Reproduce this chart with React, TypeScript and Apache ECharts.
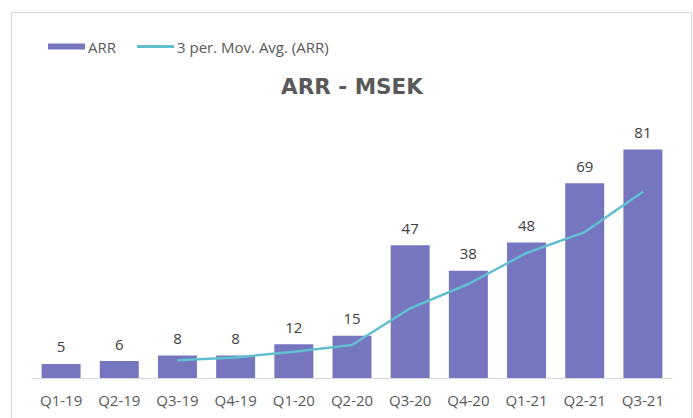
import React, { useEffect, useRef } from "react";
import * as echarts from "echarts";

const categories = ["Q1-19", "Q2-19", "Q3-19", "Q4-19", "Q1-20", "Q2-20", "Q3-20", "Q4-20", "Q1-21", "Q2-21", "Q3-21"];
const arrValues = [5, 6, 8, 8, 12, 15, 47, 38, 48, 69, 81];
const movAvgValues: (number | null)[] = [null, null, 6.3, 7.3, 9.3, 11.7, 24.7, 33.3, 44.3, 51.7, 66];

export default function App() {
  const ref = useRef<HTMLDivElement>(null);
  useEffect(() => {
    document.body.style.margin = "0";
    const chart = echarts.init(ref.current!, undefined, { renderer: "svg" });
    const font = "Open Sans";
    chart.setOption({
      animation: false,
      backgroundColor: "#ffffff",
      title: {
        text: "ARR - MSEK",
        left: 347,
        textAlign: "center",
        top: 70,
        textStyle: { fontFamily: "DejaVu Sans", fontWeight: "bold", fontSize: 21.5, color: "#595959" },
      },
      legend: {
        left: 43,
        top: 34,
        itemWidth: 37,
        itemHeight: 6,
        itemGap: 21,
        textStyle: { fontFamily: font, fontSize: 15, color: "#595959", padding: [0, 0, 0, -2] },
        data: [
          { name: "ARR", icon: "rect" },
          { name: "3 per. Mov. Avg. (ARR)", icon: "path://M0,0 L37,0 L37,3 L0,3 Z" },
        ],
      },
      graphic: [
        {
          type: "rect",
          shape: { x: 11.5, y: 12.5, width: 680, height: 440 },
          style: { fill: "none", stroke: "#d9d9d9", lineWidth: 1 },
          silent: true,
        },
      ],
      grid: { left: 32, right: 21, top: 124, bottom: 40 },
      xAxis: {
        type: "category",
        data: categories,
        axisLine: { lineStyle: { color: "#d9d9d9", width: 1 } },
        axisTick: { show: false },
        axisLabel: { fontFamily: font, fontSize: 15, color: "#595959", margin: 14 },
      },
      yAxis: {
        type: "value",
        min: 0,
        max: 90,
        show: false,
        splitLine: { show: false },
      },
      series: [
        {
          name: "ARR",
          type: "bar",
          data: arrValues,
          barCategoryGap: "33%",
          itemStyle: { color: "#7676c0" },
          label: {
            show: true,
            position: "top",
            distance: 10,
            fontFamily: font,
            fontSize: 15,
            color: "#404040",
          },
        },
        {
          name: "3 per. Mov. Avg. (ARR)",
          type: "line",
          data: movAvgValues,
          symbol: "none",
          lineStyle: { color: "#62bfd0", width: 2.5 },
          itemStyle: { color: "#62bfd0" },
        },
      ],
    });
    return () => chart.dispose();
  }, []);
  return <div ref={ref} style={{ position: "absolute", left: 0, top: 0, width: 693, height: 418 }} />;
}
